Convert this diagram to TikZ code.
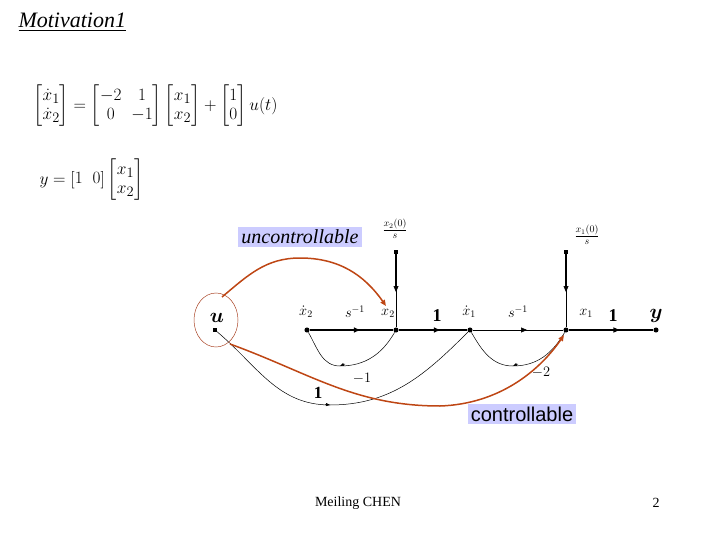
\documentclass[tikz,border=0pt]{standalone}
\usepackage{amsmath}
\usepackage{fontspec}
\setmainfont{Liberation Serif}
\usetikzlibrary{arrows.meta,decorations.markings}
\newcommand{\fs}[1]{\fontsize{#1}{#1}\selectfont}
\begin{document}
\begin{tikzpicture}[x=1pt,y=-1pt,
  dot/.style={circle,fill,inner sep=1.8pt},
  sq/.style={rectangle,fill,inner sep=1.8pt},
  br/.style={line width=1.2pt,postaction={decorate},decoration={markings,mark=at position 0.6 with {\arrow{Triangle[length=6pt,width=5pt]}}}},
  thn/.style={line width=0.5pt},
  red/.style={draw={rgb,255:red,190;green,70;blue,20},line width=1.5pt,-{Triangle[length=6pt,width=5pt]}},
  t/.style={font=\fs{14}},
  lab/.style={fill={rgb,255:red,204;green,204;blue,255},inner sep=3pt,font=\fs{20}}]
\useasboundingbox (0,0) rectangle (720,540);
\node[anchor=west,font=\fs{22}] (title) at (15,22) {\itshape\underline{Motivation1}};
\node[anchor=west,font=\fs{19}] (eq1) at (30,106) {$\begin{bmatrix}\dot x_1\\ \dot x_2\end{bmatrix}=\begin{bmatrix}-2&1\\0&-1\end{bmatrix}\begin{bmatrix}x_1\\ x_2\end{bmatrix}+\begin{bmatrix}1\\0\end{bmatrix}u(t)$};
\node[anchor=west,font=\fs{19}] (eq2) at (36,180) {$y=\begin{bmatrix}1&0\end{bmatrix}\begin{bmatrix}x_1\\ x_2\end{bmatrix}$};
\node[sq] (u) at (215,330) {};
\node[dot] (x2d) at (307,330) {};
\node[dot] (x2) at (396,330) {};
\node[dot] (x1d) at (470,330) {};
\node[dot] (x1) at (566,330) {};
\node[dot] (y) at (656,330) {};
\node[sq] (i2) at (396,252) {};
\node[sq] (i1) at (566,252) {};
\coordinate (f2) at (340,366);
\coordinate (f1) at (513,366);
\coordinate (fu) at (330,405);
\draw[br] (x2d) -- (x2);
\draw[br] (x2) -- (x1d);
\draw[thn,postaction={decorate},decoration={markings,mark=at position 0.6 with {\arrow{Triangle[length=6pt,width=5pt]}}}] (x1d) -- (x1);
\draw[br] (x1) -- (y);
\draw[line width=1.2pt] (i2) -- (396,290);
\draw[thn,-{Triangle[length=6pt,width=5pt]}] (396,282) -- (396,292);
\draw[thn] (396,290) -- (x2);
\draw[line width=1.2pt] (i1) -- (566,290);
\draw[thn,-{Triangle[length=6pt,width=5pt]}] (566,282) -- (566,292);
\draw[thn] (566,290) -- (x1);
\draw[thn] (x2) to[out=240,in=0] (f2) to[out=180,in=300] (x2d);
\draw[-{Triangle[length=4pt,width=3pt]},thn] (345,364) -- (340,366);
\draw[thn] (x1) to[out=240,in=0] (f1) to[out=180,in=300] (x1d);
\draw[-{Triangle[length=4pt,width=3pt]},thn] (518,364) -- (513,366);
\draw[thn] (u) to[out=-40,in=180] (fu) to[out=0,in=225] (x1d);
\draw[-{Triangle[length=4pt,width=3pt]},thn] (325,404.5) -- (330,405);
\node[font=\fs{20}] (lu) at (217,318) {$\boldsymbol{u}$};
\node[t] (l1) at (306,312) {$\dot x_2$};
\node[t] (l2) at (355,312) {$s^{-1}$};
\node[t] (l3) at (388,313) {$x_2$};
\node[font=\fs{18}] (l4) at (437,316) {\bfseries 1};
\node[t] (l5) at (469,312) {$\dot x_1$};
\node[t] (l6) at (518,312) {$s^{-1}$};
\node[t] (l7) at (586,313) {$x_1$};
\node[font=\fs{18}] (l8) at (613,316) {\bfseries 1};
\node[font=\fs{22}] (l9) at (656,316) {$\boldsymbol{y}$};
\node[font=\fs{15}] (l10) at (362,378) {$-1$};
\node[font=\fs{15}] (l11) at (541,372) {$-2$};
\node[font=\fs{17}] (l12) at (318,393) {\bfseries 1};
\node[font=\fs{14}] (l13) at (395,229) {$\frac{x_2(0)}{s}$};
\node[font=\fs{14}] (l14) at (587,235) {$\frac{x_1(0)}{s}$};
\draw[draw={rgb,255:red,170;green,70;blue,40},thn] (216,320) ellipse (22 and 27);
\node[lab] (unc) at (300,237) {\itshape uncontrollable};
\node[lab] (con) at (522,414) {\fontspec{Liberation Sans}controllable};
\draw[red] (222,297) to[out=40,in=180] (300,258) to[out=0,in=125] (386,306);
\draw[red] (230,344) to[out=-20,in=180] (440,406) .. controls (500,404) and (540,370) .. (564,335);
\node[font=\fs{14}] (ft) at (358,503) {Meiling CHEN};
\node[font=\fs{14}] (pg) at (656,503) {2};
\end{tikzpicture}
\end{document}
